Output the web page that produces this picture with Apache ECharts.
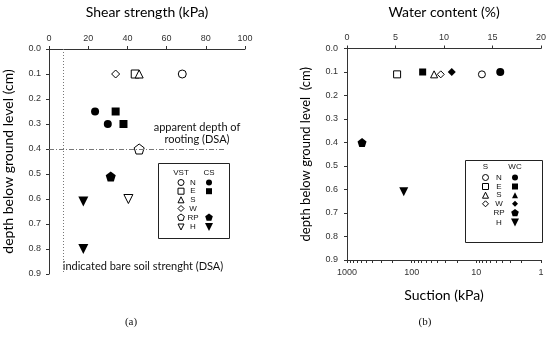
<!DOCTYPE html>
<html><head><meta charset="utf-8">
<script src="https://cdn.jsdelivr.net/npm/echarts@6/dist/echarts.min.js"></script>
<style>html,body{margin:0;padding:0;background:#fff}#c{width:550px;height:341px}</style>
</head><body><div id="c"></div>
<script>
// ---- Panel (a): shear strength (kPa) vs depth (cm)
const vstN = [[68, 0.1]];
const vstE = [[44, 0.1]];
const vstS = [[46, 0.1]];
const vstW = [[34, 0.1]];
const vstRP = [[46, 0.4]];
const vstH = [[40.5, 0.6]];
const csN = [[23.5, 0.25], [30, 0.3]];
const csE = [[34, 0.25], [38, 0.3]];
const csRP = [[31.5, 0.51]];
const csH = [[17.5, 0.61], [17.5, 0.8]];
const bareSoilStrength = 7.5;
const rootingDepth = 0.4;
const rootingLineEnd = 90;
// ---- Panel (b): water content (%) and suction (kPa) vs depth (cm)
const wcN = [[15.8, 0.1]];
const wcE = [[7.8, 0.1]];
const wcW = [[10.8, 0.1]];
const wcRP = [[1.55, 0.4]];
const wcH = [[5.85, 0.61]];
const sN = [[8.2, 0.11]];
const sE = [[168, 0.11]];
const sS = [[45, 0.11]];
const sW = [[35.5, 0.11]];
const suctionTicks = [1,2,3,4,5,6,7,8,9,10,20,30,40,50,60,70,80,90,100,200,300,400,500,600,700,800,900,1000];
const legendRows = ['N', 'E', 'S', 'W', 'RP', 'H'];

const PENT = 'path://M0,-1 L0.951,-0.309 L0.588,0.809 L-0.588,0.809 L-0.951,-0.309 Z';
const sans = 'Liberation Sans';
const hum = 'Lato';

function sc(data, xi, yi, symbol, filled, size, rot) {
  return {
    type: 'scatter', data, xAxisIndex: xi, yAxisIndex: yi, symbol, symbolSize: size,
    symbolRotate: rot || 0, silent: true, z: filled ? 3 : 4,
    itemStyle: filled ? {color: '#000', opacity: 1} : {color: '#fff', borderColor: '#000', borderWidth: 1, opacity: 1}
  };
}

const series = [
  Object.assign(sc(vstN, 0, 0, 'circle', false, 8), {
    markLine: {
      silent: true, symbol: 'none', label: {show: false},
      data: [
        {xAxis: bareSoilStrength, lineStyle: {type: [1, 2], color: '#777', width: 1}},
        [{coord: [0, rootingDepth], lineStyle: {type: [5, 2, 1, 2], color: '#777', width: 1}},
         {coord: [rootingLineEnd, rootingDepth]}]
      ]
    }
  }),
  sc(vstE, 0, 0, 'rect', false, 8),
  sc(vstS, 0, 0, 'triangle', false, 8),
  sc(vstW, 0, 0, 'diamond', false, 8),
  sc(vstRP, 0, 0, PENT, false, 10),
  sc(vstH, 0, 0, 'triangle', false, 9, 180),
  sc(csN, 0, 0, 'circle', true, 8),
  sc(csE, 0, 0, 'rect', true, 8),
  sc(csRP, 0, 0, PENT, true, 10),
  sc(csH, 0, 0, 'triangle', true, 10, 180),
  sc(wcN, 1, 1, 'circle', true, 8),
  sc(wcE, 1, 1, 'rect', true, 7),
  sc(wcW, 1, 1, 'diamond', true, 8),
  sc(wcRP, 1, 1, PENT, true, 9),
  sc(wcH, 1, 1, 'triangle', true, 9, 180),
  sc(sN, 2, 1, 'circle', false, 7),
  sc(sE, 2, 1, 'rect', false, 7),
  sc(sS, 2, 1, 'triangle', false, 7),
  sc(sW, 2, 1, 'diamond', false, 7)
];

const axLine = {show: true, lineStyle: {color: '#333', width: 1}};
const tick = {show: true, length: 3, lineStyle: {color: '#333'}};
const lbl = {color: '#333', fontSize: 9, fontFamily: sans};
const nameSt = {color: '#000', fontSize: 14, fontFamily: hum};

// legend graphics
function gsym(shape, x, y, filled, s) {
  const style = filled ? {fill: '#000'} : {fill: '#fff', stroke: '#000', lineWidth: 1};
  const h = s / 2;
  if (shape === 'circle') return {type: 'circle', shape: {cx: x, cy: y, r: h}, style, silent: true};
  if (shape === 'rect') return {type: 'rect', shape: {x: x - h, y: y - h, width: s, height: s}, style, silent: true};
  let pts;
  if (shape === 'tri') pts = [[x, y - h], [x + h, y + h], [x - h, y + h]];
  if (shape === 'dtri') pts = [[x - h, y - h], [x + h, y - h], [x, y + h]];
  if (shape === 'dia') pts = [[x, y - h], [x + h, y], [x, y + h], [x - h, y]];
  if (shape === 'pent') pts = [[0, -1], [0.951, -0.309], [0.588, 0.809], [-0.588, 0.809], [-0.951, -0.309]].map(p => [x + p[0] * h, y + p[1] * h]);
  return {type: 'polygon', shape: {points: pts}, style, silent: true};
}
function gtxt(t, x, y, size, font, align) {
  return {type: 'text', x, y, silent: true,
    style: {text: t, fill: '#111', fontSize: size, fontFamily: font || sans, align: align || 'center', verticalAlign: 'middle'}};
}
const shapes = ['circle', 'rect', 'tri', 'dia', 'pent', 'dtri'];
const graphics = [];
// legend a
graphics.push({type: 'rect', shape: {x: 158.5, y: 163.5, width: 71, height: 75}, style: {fill: '#fff', stroke: '#222', lineWidth: 1}, silent: true, z: 10});
const la = [];
la.push(gtxt('VST', 181, 173, 8));
la.push(gtxt('CS', 209, 173, 8));
const rowA = [182.5, 191.2, 199.8, 208.5, 217.5, 227];
legendRows.forEach((r, i) => {
  la.push(gtxt(r, 193, rowA[i], 8));
  la.push(gsym(shapes[i], 181, rowA[i], false, i === 4 ? 7 : 6));
});
[[0, 'circle'], [1, 'rect'], [4, 'pent'], [5, 'dtri']].forEach(([i, s]) => la.push(gsym(s, 209, rowA[i], true, i >= 4 ? 8 : 6)));
// legend b
graphics.push({type: 'rect', shape: {x: 465.5, y: 160.5, width: 77, height: 82}, style: {fill: '#fff', stroke: '#222', lineWidth: 1}, silent: true, z: 10});
la.push(gtxt('S', 485.5, 167, 8));
la.push(gtxt('WC', 515, 167, 8));
const rowB = [177.5, 186.5, 195.2, 203.8, 213, 222.5];
legendRows.forEach((r, i) => {
  la.push(gtxt(r, 499, rowB[i], 8));
  if (i < 4) la.push(gsym(shapes[i], 485.5, rowB[i], false, 6));
  la.push(gsym(shapes[i], 515, rowB[i], true, i >= 4 ? 8 : 6));
});
la.forEach(g => { g.z = 11; graphics.push(g); });
// annotations
graphics.push(gtxt('apparent depth of', 197, 127.5, 11, hum));
graphics.push(gtxt('rooting (DSA)', 197, 139.5, 11, hum));
graphics.push(gtxt('indicated bare soil strenght (DSA)', 143, 266.5, 11, hum));
graphics.push(gtxt('(a)', 131, 322, 11, 'Liberation Serif'));
graphics.push(gtxt('(b)', 425, 322, 11, 'Liberation Serif'));

const option = {
  animation: false,
  backgroundColor: '#fff',
  grid: [
    {left: 48, top: 49, width: 197, height: 225},
    {left: 347, top: 39.5, width: 194, height: 220.5}
  ],
  xAxis: [
    {gridIndex: 0, type: 'value', position: 'top', min: 0, max: 100, interval: 20,
     name: 'Shear strength (kPa)', nameLocation: 'middle', nameGap: 30, nameTextStyle: nameSt,
     axisLine: axLine, axisTick: tick, axisLabel: Object.assign({margin: 6}, lbl), splitLine: {show: false}},
    {gridIndex: 1, type: 'value', position: 'top', min: 0, max: 20, interval: 5,
     name: 'Water content (%)', nameLocation: 'middle', nameGap: 29.5, nameTextStyle: nameSt,
     axisLine: axLine, axisTick: tick, axisLabel: Object.assign({margin: 6}, lbl), splitLine: {show: false}},
    {gridIndex: 1, type: 'log', logBase: 10, position: 'bottom', min: 1, max: 1000, inverse: true,
     name: 'Suction (kPa)', nameLocation: 'middle', nameGap: 28, nameTextStyle: nameSt,
     axisLine: axLine, axisTick: {show: true, length: 3, customValues: suctionTicks, lineStyle: {color: '#333'}},
     axisLabel: Object.assign({margin: 8, formatter: v => String(Math.round(v))}, lbl), splitLine: {show: false}}
  ],
  yAxis: [
    {gridIndex: 0, type: 'value', inverse: true, min: 0, max: 0.9, interval: 0.1,
     name: 'depth below ground level (cm)', nameLocation: 'middle', nameGap: 34, nameTextStyle: nameSt,
     axisLine: axLine, axisTick: tick, axisLabel: Object.assign({margin: 8, formatter: v => v.toFixed(1)}, lbl), splitLine: {show: false}},
    {gridIndex: 1, type: 'value', inverse: true, min: 0, max: 0.9, interval: 0.1,
     name: 'depth below ground level  (cm)', nameLocation: 'middle', nameGap: 35, nameTextStyle: Object.assign({}, nameSt, {fontSize: 13}),
     axisLine: axLine, axisTick: tick, axisLabel: Object.assign({margin: 9, formatter: v => v.toFixed(1)}, lbl), splitLine: {show: false}}
  ],
  series,
  graphic: graphics
};
const chart = echarts.init(document.getElementById('c'), null, {renderer: 'canvas'});
chart.setOption(option);
</script></body></html>
